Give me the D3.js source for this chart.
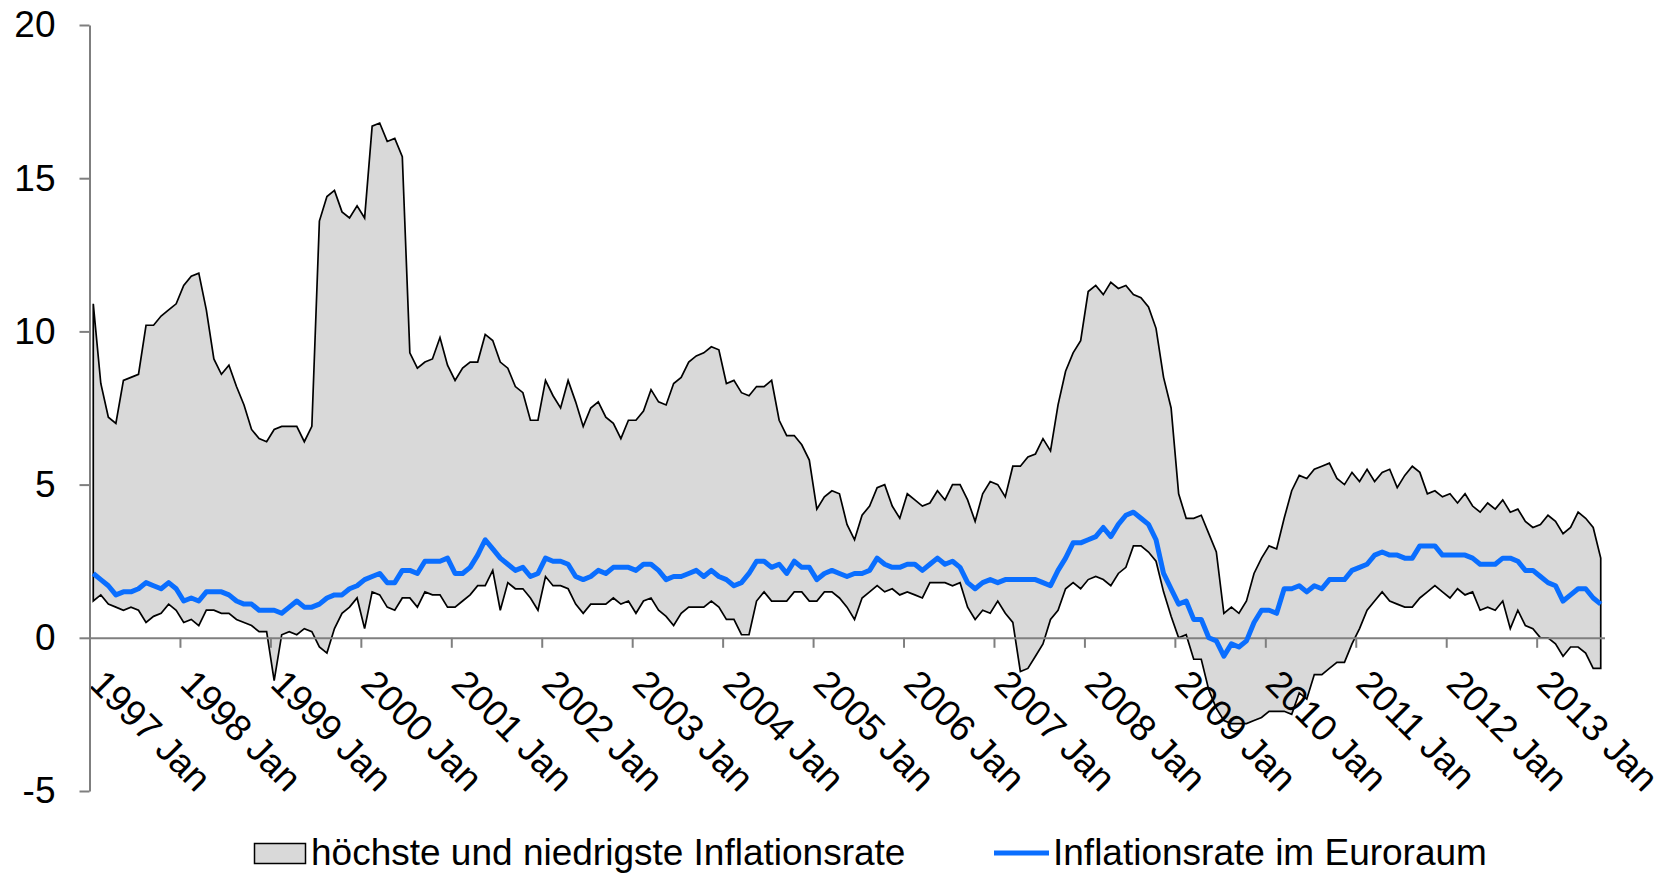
<!DOCTYPE html>
<html>
<head>
<meta charset="utf-8">
<script src="https://cdn.jsdelivr.net/npm/d3@7"></script>
<style>
  body { margin: 0; background: #fff; }
  svg { display: block; font-family: Arial, "Liberation Sans", sans-serif; }
</style>
</head>
<body>
<svg id="chart" width="1661" height="873"></svg>
<script>
// monthly values, 1997 Jan .. 2013 Sep
const yearLabels = d3.range(1997, 2014).map(d => d + " Jan");

const maxRate = [
  10.9, 8.3, 7.2, 7.0, 8.4, 8.5, 8.6, 10.2, 10.2, 10.5, 10.7, 10.9,
  11.5, 11.8, 11.9, 10.7, 9.1, 8.6, 8.9, 8.2, 7.6, 6.8, 6.5, 6.4,
  6.8, 6.9, 6.9, 6.9, 6.4, 6.9, 13.6, 14.4, 14.6, 13.9, 13.7, 14.1,
  13.7, 16.7, 16.8, 16.2, 16.3, 15.7, 9.3, 8.8, 9.0, 9.1, 9.8, 8.9,
  8.4, 8.8, 9.0, 9.0, 9.9, 9.7, 9.0, 8.8, 8.2, 8.0, 7.1, 7.1,
  8.4, 7.9, 7.5, 8.4, 7.7, 6.9, 7.5, 7.7, 7.2, 7.0, 6.5, 7.1,
  7.1, 7.4, 8.1, 7.7, 7.6, 8.3, 8.5, 9.0, 9.2, 9.3, 9.5, 9.4,
  8.3, 8.4, 8.0, 7.9, 8.2, 8.2, 8.4, 7.1, 6.6, 6.6, 6.3, 5.8,
  4.2, 4.6, 4.8, 4.7, 3.7, 3.2, 4.0, 4.3, 4.9, 5.0, 4.3, 3.9,
  4.7, 4.5, 4.3, 4.4, 4.8, 4.5, 5.0, 5.0, 4.5, 3.8, 4.7, 5.1,
  5.0, 4.6, 5.6, 5.6, 5.9, 6.0, 6.5, 6.1, 7.6, 8.7, 9.3, 9.7,
  11.3, 11.5, 11.2, 11.6, 11.4, 11.5, 11.2, 11.1, 10.8, 10.1, 8.5, 7.5,
  4.7, 3.9, 3.9, 4.0, 3.4, 2.8, 0.8, 1.0, 0.8, 1.2, 2.1, 2.6,
  3.0, 2.9, 3.9, 4.8, 5.3, 5.2, 5.5, 5.6, 5.7, 5.2, 5.0, 5.4,
  5.1, 5.5, 5.1, 5.4, 5.5, 4.9, 5.3, 5.6, 5.4, 4.7, 4.8, 4.6,
  4.7, 4.4, 4.7, 4.3, 4.1, 4.4, 4.2, 4.5, 4.1, 4.2, 3.8, 3.6,
  3.7, 4.0, 3.8, 3.4, 3.6, 4.1, 3.9, 3.6, 2.6
];

const minRate = [
  1.2, 1.4, 1.1, 1.0, 0.9, 1.0, 0.9, 0.5, 0.7, 0.8, 1.1, 0.9,
  0.5, 0.6, 0.4, 0.9, 0.9, 0.8, 0.8, 0.6, 0.5, 0.4, 0.2, 0.2,
  -1.4, 0.1, 0.2, 0.1, 0.3, 0.2, -0.3, -0.5, 0.3, 0.8, 1.0, 1.3,
  0.3, 1.5, 1.4, 1.0, 0.9, 1.3, 1.3, 1.0, 1.5, 1.4, 1.4, 1.0,
  1.0, 1.2, 1.4, 1.7, 1.7, 2.2, 0.9, 1.8, 1.6, 1.6, 1.3, 0.9,
  2.0, 1.7, 1.7, 1.6, 1.1, 0.8, 1.1, 1.1, 1.1, 1.3, 1.1, 1.2,
  0.8, 1.2, 1.3, 0.9, 0.7, 0.4, 0.8, 1.0, 1.0, 1.0, 1.2, 1.0,
  0.6, 0.6, 0.1, 0.1, 1.2, 1.5, 1.2, 1.2, 1.2, 1.5, 1.5, 1.2,
  1.2, 1.5, 1.5, 1.3, 1.0, 0.6, 1.3, 1.5, 1.7, 1.5, 1.6, 1.4,
  1.5, 1.4, 1.3, 1.8, 1.8, 1.8, 1.7, 1.8, 1.0, 0.6, 0.9, 0.8,
  1.2, 0.8, 0.5, -1.1, -1.0, -0.6, -0.2, 0.6, 0.9, 1.6, 1.8, 1.6,
  1.9, 2.0, 1.9, 1.7, 2.1, 2.3, 3.0, 3.0, 2.8, 2.5, 1.5, 0.7,
  0.0, 0.1, -0.7, -0.7, -1.7, -2.3, -2.7, -2.8, -2.8, -2.8, -2.7, -2.6,
  -2.4, -2.4, -2.4, -2.5, -1.8, -2.0, -1.2, -1.2, -1.0, -0.8, -0.8, -0.2,
  0.3, 0.9, 1.2, 1.5, 1.2, 1.1, 1.0, 1.0, 1.3, 1.5, 1.7, 1.5,
  1.3, 1.6, 1.4, 1.5, 0.9, 1.0, 0.9, 1.2, 0.3, 0.9, 0.4, 0.3,
  0.0, 0.0, -0.2, -0.6, -0.3, -0.3, -0.5, -1.0, -1.0
];

const euroRate = [
  2.1, 1.9, 1.7, 1.4, 1.5, 1.5, 1.6, 1.8, 1.7, 1.6, 1.8, 1.6,
  1.2, 1.3, 1.2, 1.5, 1.5, 1.5, 1.4, 1.2, 1.1, 1.1, 0.9, 0.9,
  0.9, 0.8, 1.0, 1.2, 1.0, 1.0, 1.1, 1.3, 1.4, 1.4, 1.6, 1.7,
  1.9, 2.0, 2.1, 1.8, 1.8, 2.2, 2.2, 2.1, 2.5, 2.5, 2.5, 2.6,
  2.1, 2.1, 2.3, 2.7, 3.2, 2.9, 2.6, 2.4, 2.2, 2.3, 2.0, 2.1,
  2.6, 2.5, 2.5, 2.4, 2.0, 1.9, 2.0, 2.2, 2.1, 2.3, 2.3, 2.3,
  2.2, 2.4, 2.4, 2.2, 1.9, 2.0, 2.0, 2.1, 2.2, 2.0, 2.2, 2.0,
  1.9, 1.7, 1.8, 2.1, 2.5, 2.5, 2.3, 2.4, 2.1, 2.5, 2.3, 2.3,
  1.9, 2.1, 2.2, 2.1, 2.0, 2.1, 2.1, 2.2, 2.6, 2.4, 2.3, 2.3,
  2.4, 2.4, 2.2, 2.4, 2.6, 2.4, 2.5, 2.3, 1.8, 1.6, 1.8, 1.9,
  1.8, 1.9, 1.9, 1.9, 1.9, 1.9, 1.8, 1.7, 2.2, 2.6, 3.1, 3.1,
  3.2, 3.3, 3.6, 3.3, 3.7, 4.0, 4.1, 3.9, 3.7, 3.2, 2.1, 1.6,
  1.1, 1.2, 0.6, 0.6, 0.0, -0.1, -0.6, -0.2, -0.3, -0.1, 0.5, 0.9,
  0.9, 0.8, 1.6, 1.6, 1.7, 1.5, 1.7, 1.6, 1.9, 1.9, 1.9, 2.2,
  2.3, 2.4, 2.7, 2.8, 2.7, 2.7, 2.6, 2.6, 3.0, 3.0, 3.0, 2.7,
  2.7, 2.7, 2.7, 2.6, 2.4, 2.4, 2.4, 2.6, 2.6, 2.5, 2.2, 2.2,
  2.0, 1.8, 1.7, 1.2, 1.4, 1.6, 1.6, 1.3, 1.1
];

const yTicks = [-5, 0, 5, 10, 15, 20];
const legendLabels = ["höchste und niedrigste Inflationsrate", "Inflationsrate im Euroraum"];

const n = euroRate.length;
const fontSize = 37;
const axisColor = "#7f7f7f";

const svg = d3.select("#chart");

// months are categories; ticks sit on the boundaries between them
const x = d3.scaleBand()
  .domain(d3.range(n))
  .range([89.5, 1604.5]);
const xEdge = d3.scaleLinear()
  .domain([0, n])
  .range([89.5, 1604.5]);
const xc = i => x(i) + x.bandwidth() / 2;

const y = d3.scaleLinear()
  .domain([-5, 20])
  .range([791, 25]);

// grey band between highest and lowest rate
const band = d3.area()
  .x(i => xc(i))
  .y0(i => y(minRate[i]))
  .y1(i => y(maxRate[i]));

svg.append("path")
  .datum(d3.range(n))
  .attr("d", band)
  .attr("fill", "#d9d9d9")
  .attr("stroke", "#000")
  .attr("stroke-width", 1.7)
  .attr("stroke-linejoin", "miter");

// x axis at zero
const xAxis = svg.append("g")
  .attr("transform", `translate(0,${y(0)})`)
  .call(d3.axisBottom(xEdge)
    .tickValues(d3.range(0, n, 12))
    .tickSize(10)
    .tickSizeOuter(0)
    .tickFormat((d, i) => yearLabels[i]));

xAxis.selectAll("text")
  .attr("x", 0)
  .attr("y", 0)
  .attr("dy", 0)
  .attr("text-anchor", "start")
  .attr("transform", "translate(-2,48) rotate(45)");

// y axis, plain hyphen for negatives
const yAxis = svg.append("g")
  .attr("transform", "translate(89.5,0)")
  .call(d3.axisLeft(y)
    .tickValues(yTicks)
    .tickSize(10)
    .tickSizeOuter(0)
    .tickPadding(24)
    .tickFormat(d => String(d)));

[xAxis, yAxis].forEach(g => {
  g.select(".domain").attr("stroke", axisColor).attr("stroke-width", 2);
  g.selectAll(".tick line").attr("stroke", axisColor).attr("stroke-width", 2);
  g.selectAll("text")
    .attr("fill", "#000")
    .attr("font-size", fontSize)
    .attr("font-family", "Arial, 'Liberation Sans', sans-serif");
});

// euro area rate
const line = d3.line()
  .x((d, i) => xc(i))
  .y(d => y(d));

svg.append("path")
  .datum(euroRate)
  .attr("d", line)
  .attr("fill", "none")
  .attr("stroke", "#0a6eff")
  .attr("stroke-width", 5)
  .attr("stroke-linejoin", "round");

// legend
const legend = svg.append("g").attr("font-size", fontSize);

legend.append("rect")
  .attr("x", 254.5).attr("y", 843.5)
  .attr("width", 51).attr("height", 20)
  .attr("fill", "#d9d9d9")
  .attr("stroke", "#000")
  .attr("stroke-width", 1.5);
legend.append("text")
  .attr("x", 311).attr("y", 865)
  .text(legendLabels[0]);

legend.append("line")
  .attr("x1", 994).attr("x2", 1049)
  .attr("y1", 853).attr("y2", 853)
  .attr("stroke", "#0a6eff")
  .attr("stroke-width", 5);
legend.append("text")
  .attr("x", 1053).attr("y", 865)
  .text(legendLabels[1]);
</script>
</body>
</html>
